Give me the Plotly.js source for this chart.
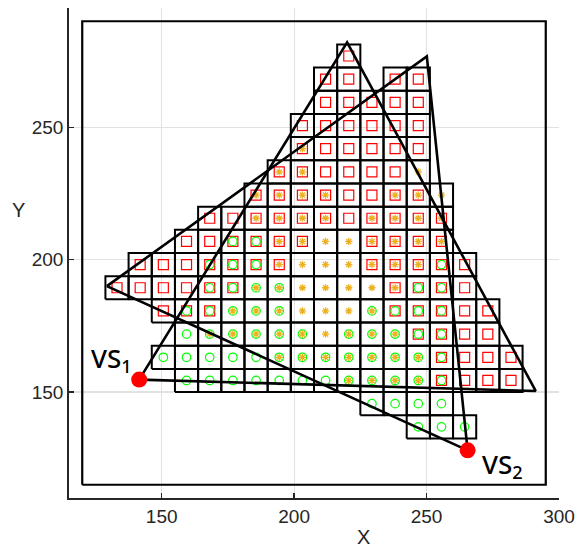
<!DOCTYPE html>
<html>
<head>
<meta charset="utf-8">
<script src="https://cdn.plot.ly/plotly-3.0.1.min.js"></script>
<style>html,body{margin:0;padding:0;background:#fff}#chart{width:577px;height:547px}</style>
</head>
<body>
<div id="chart"></div>
<script>
// ---- data ----
const gridX0 = 120, gridY0 = 115, cellSize = 8.75;
const frameX = [120, 295];
const frameY = [115, 290];
// grid rows: row index, first column, codes per cell (R red square, G green circle, S star, - no cell)
const rowIndex    = [2, 3, 4, 5, 6, 7, 8, 9, 10, 11, 12, 13, 14, 15, 16, 17, 18];
const rowStartCol = [14, 12, 4, 3, 4, 3, 1, 2, 4, 5, 7, 8, 9, 9, 10, 10, 11];
const rowCodes = [
  "G G G",
  "G G G G",
  "G G G G G G G GS GS GS GS RG R R R",
  "G G G G G GS GS GS GS GS GS GS RG R R R",
  "G GS GS GS GS GS S GS GS GS RG RG R R",
  "R RG RG GS GS GS S S S GS RG RG RG R R",
  "R R R R RG RG GS GS S S S S RS RG RG R",
  "R R R RG RG RG RS S S S RS RS RS RG R",
  "R R RG RG RS RS S S RS RS RS RS",
  "R R RS RS RS RS R RS RS RS RS",
  "RS RS RS RS R R RS RS S",
  "RS RS R R R R S",
  "RS R R R R R",
  "R R R R R R",
  "R R R R R",
  "R R - R R",
  "R"
];
const tri1X = [129.3, 250.1, 265.5];
const tri1Y = [190.0, 276.7, 128.0];
const tri2X = [141.5, 220.0, 291.2];
const tri2Y = [154.7, 282.0, 150.4];
const sourceX = [141.5, 265.5];
const sourceY = [154.7, 128.0];
const sourceLabels = ["VS<sub>1</sub>", "VS<sub>2</sub>"];
const xTicks = [150, 200, 250, 300];
const yTicks = [150, 200, 250];

// ---- build ----
const cellX = [], cellY = [];
const redX = [], redY = [], greenX = [], greenY = [], starX = [], starY = [];
rowIndex.forEach((r, k) => {
  rowCodes[k].split(" ").forEach((code, m) => {
    if (code === "-") return;
    const c = rowStartCol[k] + m;
    const x0 = gridX0 + c * cellSize, x1 = x0 + cellSize;
    const y0 = gridY0 + r * cellSize, y1 = y0 + cellSize;
    cellX.push(x0, x1, x1, x0, x0, null);
    cellY.push(y0, y0, y1, y1, y0, null);
    const cx = x0 + cellSize / 2, cy = y0 + cellSize / 2;
    if (code.includes("R")) { redX.push(cx); redY.push(cy); }
    if (code.includes("G")) { greenX.push(cx); greenY.push(cy); }
    if (code.includes("S")) { starX.push(cx); starY.push(cy); }
  });
});

const closed = a => a.concat([a[0]]);
const traces = [
  {x: [frameX[0], frameX[1], frameX[1], frameX[0], frameX[0]],
   y: [frameY[0], frameY[0], frameY[1], frameY[1], frameY[0]],
   mode: "lines", line: {color: "#000", width: 2.2}, hoverinfo: "skip"},
  {x: cellX, y: cellY, mode: "lines", line: {color: "#000", width: 2}, hoverinfo: "skip"},
  {x: redX, y: redY, mode: "markers",
   marker: {symbol: "square-open", size: 10, color: "#ff0000", line: {width: 1.2, color: "#ff0000"}}},
  {x: greenX, y: greenY, mode: "markers",
   marker: {symbol: "circle-open", size: 8.5, color: "#00ff00", line: {width: 1.2, color: "#00ff00"}}},
  {x: starX, y: starY, mode: "markers",
   marker: {symbol: "asterisk-open", size: 6, color: "#EDB120", line: {width: 1.3, color: "#EDB120"}}},
  {x: closed(tri1X), y: closed(tri1Y), mode: "lines", line: {color: "#000", width: 2.6}},
  {x: closed(tri2X), y: closed(tri2Y), mode: "lines", line: {color: "#000", width: 2.6}},
  {x: sourceX, y: sourceY, mode: "markers", marker: {color: "#ff0000", size: 16}}
];

const axisCommon = {
  ticks: "inside", ticklen: 5, tickwidth: 1.3, tickcolor: "#262626",
  showline: true, linecolor: "#262626", linewidth: 1.8, mirror: false,
  showgrid: true, gridcolor: "#e2e2e2", gridwidth: 1.2, zeroline: false,
  tickfont: {family: "Liberation Sans, Arial, sans-serif", size: 19, color: "#262626"}
};

const layout = {
  width: 577, height: 547,
  margin: {l: 69, r: 18, t: 8, b: 49},
  paper_bgcolor: "#fff", plot_bgcolor: "#fff",
  showlegend: false,
  xaxis: Object.assign({}, axisCommon, {range: [115, 300], tickvals: xTicks, ticktext: xTicks.map(String)}),
  yaxis: Object.assign({}, axisCommon, {range: [110, 295], tickvals: yTicks, ticktext: yTicks.map(String)}),
  annotations: [
    {text: sourceLabels[0], x: 122.6, y: 162.3, xref: "x", yref: "y", xanchor: "left", yanchor: "middle",
     showarrow: false, font: {family: "Noto Sans, sans-serif", size: 26, color: "#000", weight: 500}},
    {text: sourceLabels[1], x: 270.3, y: 122.3, xref: "x", yref: "y", xanchor: "left", yanchor: "middle",
     showarrow: false, font: {family: "Noto Sans, sans-serif", size: 26, color: "#000", weight: 500}},
    {text: "X", x: 0.602, y: -0.08, xref: "paper", yref: "paper", xanchor: "center", yanchor: "middle",
     showarrow: false, font: {family: "Liberation Sans, Arial, sans-serif", size: 20, color: "#262626"}},
    {text: "Y", x: -0.104, y: 0.588, xref: "paper", yref: "paper", xanchor: "center", yanchor: "middle",
     showarrow: false, font: {family: "Liberation Sans, Arial, sans-serif", size: 20, color: "#262626"}}
  ]
};

Plotly.newPlot("chart", traces, layout, {staticPlot: true, displayModeBar: false});
</script>
</body>
</html>
